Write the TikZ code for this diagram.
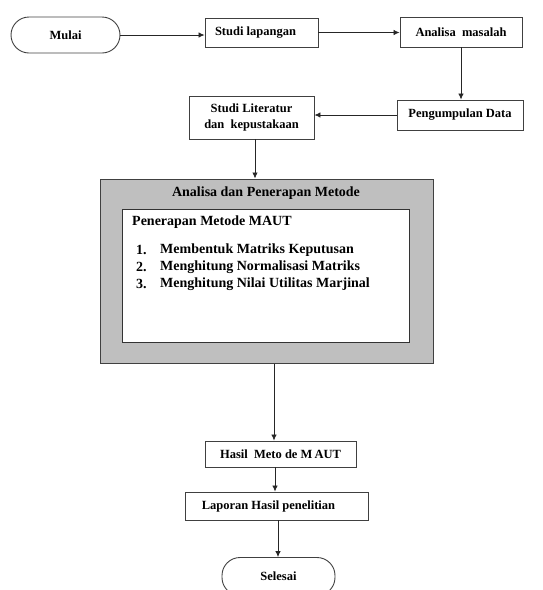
\documentclass[tikz,border=0pt]{standalone}
\usepackage{fontspec}
\setmainfont{Liberation Serif}
\usetikzlibrary{arrows.meta,calc}
\begin{document}
\begin{tikzpicture}[x=1pt,y=-1pt,
  box/.style={draw=black!75,line width=0.9pt,rectangle,inner sep=0pt,font=\fontsize{12.5}{14}\selectfont\bfseries},
  term/.style={box,rounded corners=18pt},
  arr/.style={line width=0.8pt,draw=black!85,-{Latex[length=6pt,width=5.5pt]}},
  ln/.style={line width=0.8pt,draw=black!85},
  big/.style={font=\fontsize{14}{16}\selectfont\bfseries,inner sep=0pt}]
\useasboundingbox (0,0) rectangle (542,590);
\begin{scope}
\clip (0,0) rectangle (542,590);
\node[term,minimum width=109pt,minimum height=36pt] (mulai) at (65.5,35) {Mulai};
\node[box,minimum width=113pt,minimum height=29pt] (studi) at (261.5,32.5) {\hspace*{-12pt}Studi lapangan};
\node[box,minimum width=122pt,minimum height=30pt] (anal) at (461,32) {Analisa\ \ masalah};
\node[box,minimum width=126pt,minimum height=30pt] (kumpul) at (460,115) {Pengumpulan\ Data};
\node[box,minimum width=125pt,minimum height=43pt,align=center] (lit) at (251.5,117.5) {Studi Literatur\\[2pt]dan\ \ kepustakaan};
\node[draw=black!75,line width=1pt,fill=black!25,minimum width=333pt,minimum height=184pt,inner sep=0pt] (gray) at (266.5,271) {};
\node[draw=black!80,line width=0.9pt,fill=white,minimum width=287pt,minimum height=133pt,inner sep=0pt] (white) at (265.5,275.5) {};
\node[big] (title) at (266,193) {Analisa dan Penerapan Metode};
\node[big,anchor=west] (maut) at (132,222) {Penerapan Metode MAUT};
\node[big,anchor=west] (n1) at (136,250) {1.};
\node[big,anchor=west] (t1) at (160,250) {Membentuk Matriks Keputusan};
\node[big,anchor=west] (n2) at (136,267) {2.};
\node[big,anchor=west] (t2) at (160,267) {Menghitung Normalisasi Matriks};
\node[big,anchor=west] (n3) at (136,284) {3.};
\node[big,anchor=west] (t3) at (160,284) {Menghitung Nilai Utilitas Marjinal};
\node[box,minimum width=151pt,minimum height=26pt] (hasil) at (280.5,454) {Hasil\ \ Meto de M\,AUT};
\node[box,minimum width=183pt,minimum height=28pt] (lap) at (276.5,506) {\hspace*{-16pt}Laporan\ Hasil penelitian};
\node[term,minimum width=113pt,minimum height=38pt] (selesai) at (278.5,576.5) {Selesai};
\draw[arr] (mulai.east) -- (mulai.east -| studi.west);
\draw[arr] (studi.east) -- (anal.west |- studi.east);
\draw[arr] (anal.south) -- (anal.south |- kumpul.north);
\draw[arr] (kumpul.west) -- (lit.east |- kumpul.west);
\draw[arr] ($(lit.south)+(3.5,0)$) -- ($(lit.south |- gray.north)+(3.5,0)$);
\draw[arr] ($(gray.south)+(7.5,0)$) -- ($(gray.south |- hasil.north)+(7.5,0)$);
\draw[arr] ($(hasil.south)+(-5.5,0)$) -- ($(hasil.south |- lap.north)+(-5.5,0)$);
\draw[arr] ($(lap.south)+(1.5,0)$) -- ($(lap.south |- selesai.north)+(1.5,0)$);
\end{scope}
\end{tikzpicture}
\end{document}
